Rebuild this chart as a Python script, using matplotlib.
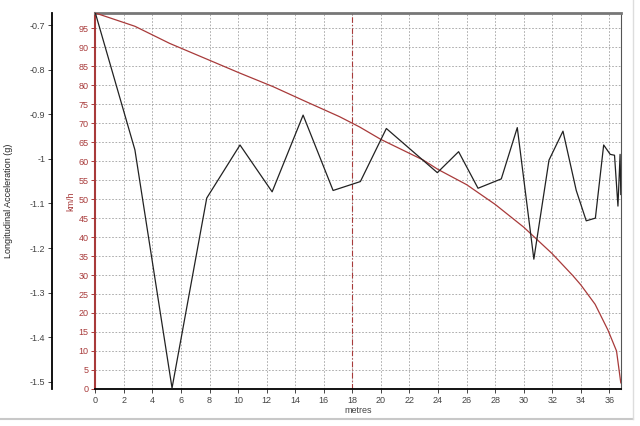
import matplotlib
matplotlib.use('Agg')
import matplotlib.pyplot as plt
from matplotlib.lines import Line2D

plt.rcParams['font.family'] = ['Liberation Sans', 'DejaVu Sans']
plt.rcParams['font.size'] = 6.5

# longitudinal acceleration (g) vs distance
dist_acc = [0, 2.77, 5.37, 7.8, 10.13, 12.38, 14.55, 16.65, 18.56, 20.38, 23.95, 25.44,
            26.8, 28.43, 29.55, 30.71, 31.77, 32.75, 33.68, 34.38, 35.02, 35.6, 36.06,
            36.36, 36.6, 36.75, 36.8]
acc = [-0.673, -0.98, -1.514, -1.088, -0.969, -1.074, -0.902, -1.071, -1.051, -0.932,
       -1.031, -0.984, -1.066, -1.045, -0.930, -1.225, -1.003, -0.938, -1.071, -1.139,
       -1.133, -0.969, -0.990, -0.992, -1.106, -0.99, -1.08]

# speed (km/h) vs distance
dist_spd = [0, 2.77, 5.2, 10.1, 12.45, 14.55, 17.1, 18.5, 20.0, 22.95, 24.0, 26.0,
            28.0, 30.0, 32.0, 33.45, 34.0, 35.0, 35.9, 36.5, 36.8]
speed = [99, 95.5, 91, 83.2, 79.6, 76, 71.7, 69, 65.7, 60.3, 57.8, 53.8, 48.6, 42.6,
         35.6, 29.8, 27.4, 22.3, 15.5, 10.0, 1.6]

x_ticks = list(range(0, 37, 2))
kmh_ticks = list(range(0, 100, 5))
g_ticks = [-0.7, -0.8, -0.9, -1.0, -1.1, -1.2, -1.3, -1.4, -1.5]
g_labels = ['-0.7', '-0.8', '-0.9', '-1', '-1.1', '-1.2', '-1.3', '-1.4', '-1.5']
cursor_x = 18

red = '#a83a3a'

fig = plt.figure(figsize=(6.4, 4.26), dpi=100)
ax = fig.add_axes([0.149, 0.087, 0.821, 0.8825])

ax.plot(dist_spd, speed, color=red, lw=0.9, zorder=3)
ax.axvline(cursor_x, color=red, lw=0.8, ls=(0, (5, 2, 1, 2)), zorder=2)
ax.set_xlim(0, 36.8)
ax.set_ylim(0, 99)
ax.set_xticks(x_ticks)
ax.set_yticks(kmh_ticks)
ax.grid(True, color='#a0a0a0', ls=(0, (2, 2)), lw=0.6)
ax.tick_params(axis='y', colors=red, length=3, width=0.7, pad=2, labelsize=6.5)
ax.tick_params(axis='x', colors='#444444', length=3, width=0.7, pad=2, labelsize=6.5)
ax.set_ylabel('km/h', color=red, fontsize=6.5, labelpad=2)
ax.set_xlabel('metres', color='#444444', fontsize=6.5, labelpad=1)

ax.spines['left'].set_color(red)
ax.spines['left'].set_linewidth(1.5)
ax.spines['bottom'].set_color('black')
ax.spines['bottom'].set_linewidth(1.3)
ax.spines['top'].set_color('#777777')
ax.spines['top'].set_linewidth(2)
ax.spines['right'].set_color('#555555')
ax.spines['right'].set_linewidth(0.8)

ax2 = ax.twinx()
ax2.plot(dist_acc, acc, color='#222222', lw=0.9, zorder=4)
ax2.set_ylim(-1.516, -0.673)
ax2.set_yticks(g_ticks)
ax2.set_yticklabels(g_labels)
ax2.yaxis.set_ticks_position('left')
ax2.yaxis.set_label_position('left')
ax2.spines['left'].set_visible(True)
ax2.spines['left'].set_position(('outward', 31))
ax2.spines['left'].set_linewidth(1.3)
ax2.spines['left'].set_color('black')
for s in ['right', 'top', 'bottom']:
    ax2.spines[s].set_visible(False)
ax2.tick_params(axis='y', colors='#444444', length=3, width=0.7, pad=2, labelsize=6.5)
ax2.set_ylabel('Longitudinal Acceleration (g)', color='#222222', fontsize=6.5, labelpad=12)

# light frame around the chart panel
fig.add_artist(Line2D([0, 633 / 640], [1 - 419 / 426, 1 - 419 / 426],
                      transform=fig.transFigure, color='#c8c8c8', lw=1.5))
fig.add_artist(Line2D([633 / 640, 633 / 640], [1 - 419 / 426, 1],
                      transform=fig.transFigure, color='#dddddd', lw=1.0))

fig.savefig('out.png', dpi=100)
